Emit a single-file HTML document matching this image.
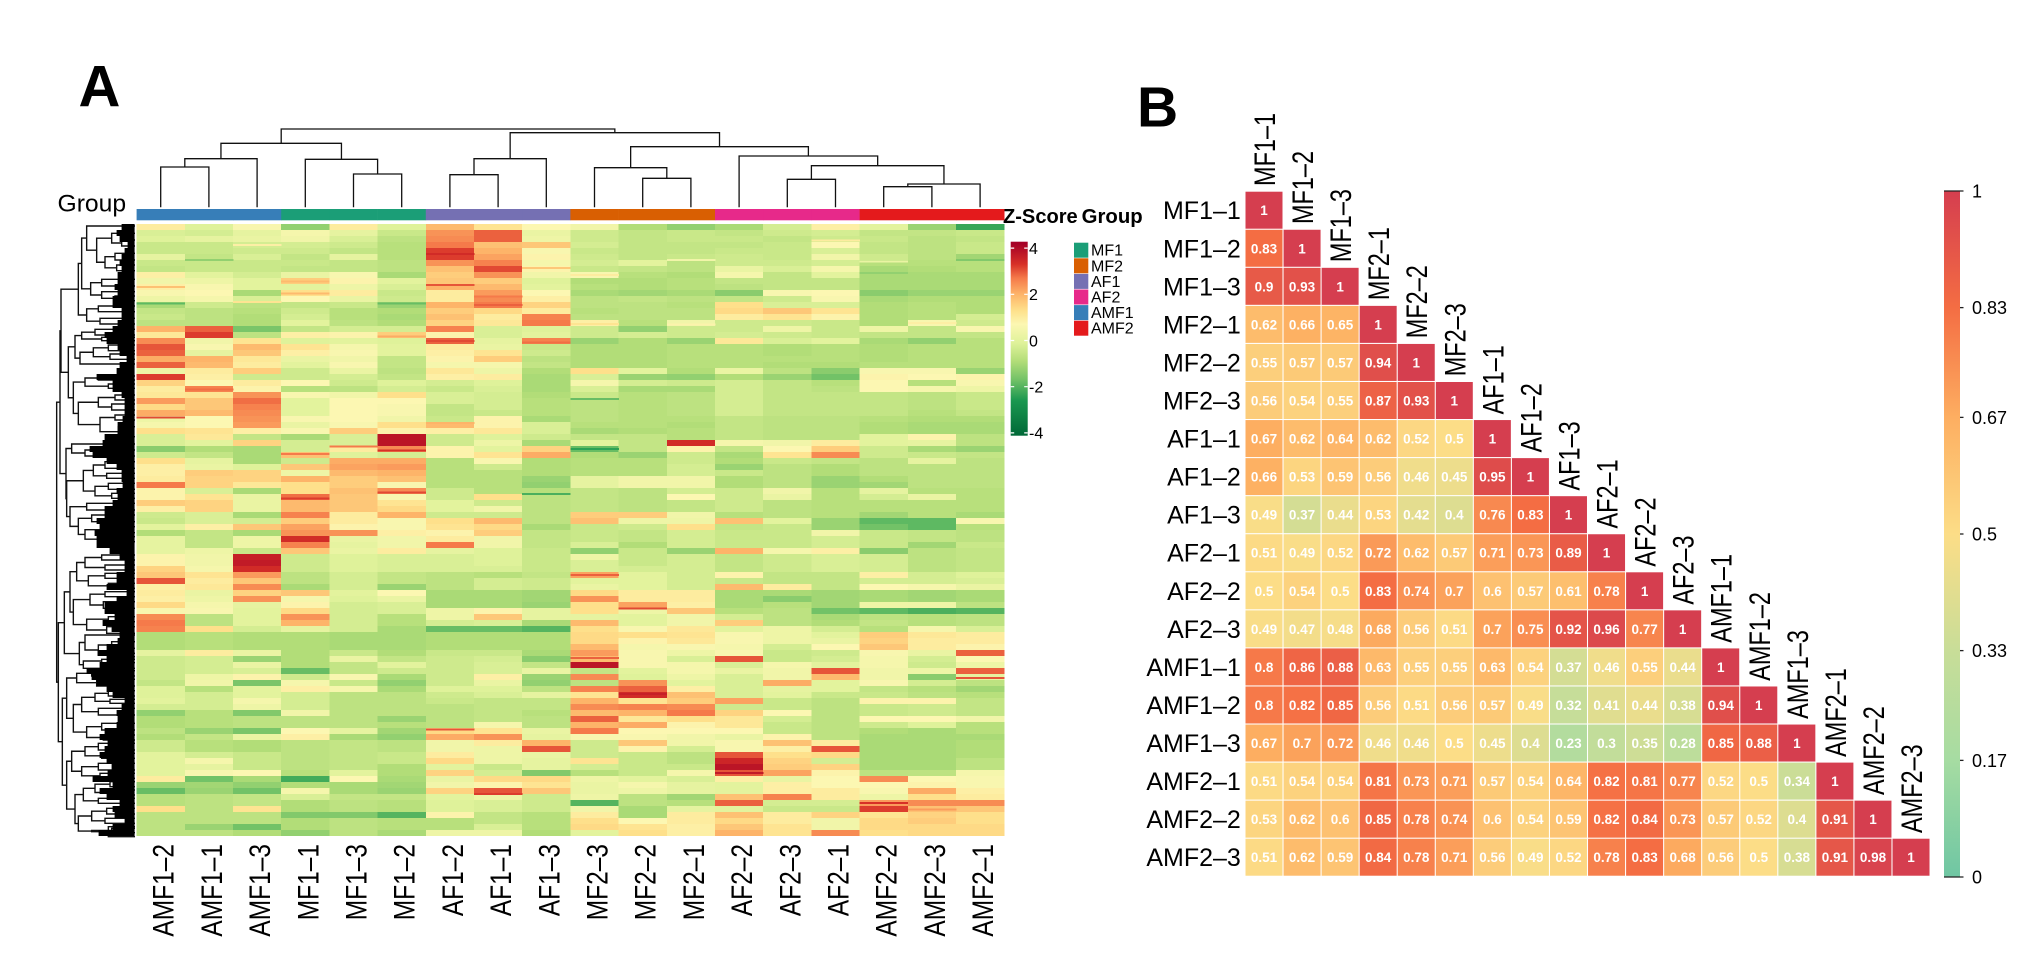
<!DOCTYPE html>
<html lang="en">
<head>
<meta charset="utf-8">
<title>Gene expression heatmap and sample correlation matrix</title>
<style>
html,body{margin:0;padding:0;background:#fff;width:2020px;height:976px;overflow:hidden}
svg{position:absolute;left:0;top:0;display:block}
text{font-family:"Liberation Sans",Arial,sans-serif;fill:#000}
</style>
</head>
<body>
<svg id="fig" xmlns="http://www.w3.org/2000/svg" width="2020" height="976" viewBox="0 0 2020 976">
  <rect x="0" y="0" width="2020" height="976" fill="#fff"/>
  <text x="78.5" y="106.5" font-size="58" font-weight="700">A</text>
  <text x="1137" y="126.5" font-size="57" font-weight="700">B</text>
  <text x="57.5" y="211.5" font-size="24" textLength="68.6" lengthAdjust="spacingAndGlyphs">Group</text>
  <text x="1003" y="223" font-size="20" font-weight="700" textLength="74.7" lengthAdjust="spacingAndGlyphs">Z-Score</text>
  <text x="1081.7" y="223" font-size="20" font-weight="700" textLength="61" lengthAdjust="spacingAndGlyphs">Group</text>
  <g id="col-dendro"></g>
  <g id="row-dendro"></g>
  <g id="annot"></g>
  <g id="heat"></g>
  <g id="heat-labels"></g>
  <g id="z-bar"></g>
  <g id="group-legend"></g>
  <g id="corr"></g>
  <g id="corr-row-labels"></g>
  <g id="corr-col-labels"></g>
  <g id="corr-bar"></g>
</svg>
<script>
/* ---------- Panel A data ---------- */
const heatColumns = ["AMF1–2","AMF1–1","AMF1–3","MF1–1","MF1–3","MF1–2","AF1–2","AF1–1","AF1–3","MF2–3","MF2–2","MF2–1","AF2–2","AF2–3","AF2–1","AMF2–2","AMF2–3","AMF2–1"];
const heatColumnGroups = ["AMF1","AMF1","AMF1","MF1","MF1","MF1","AF1","AF1","AF1","MF2","MF2","MF2","AF2","AF2","AF2","AMF2","AMF2","AMF2"];
const groupNames = ["MF1","MF2","AF1","AF2","AMF1","AMF2"];
const groupColors = ["#1b9e77","#d95f02","#7570b3","#e7298a","#377eb8","#e41a1c"];
const zTicks = [4,2,0,-2,-4];
const zStops = [-4.2,-2.6,-1.7,-0.9,-0.1,0.7,1.3,2,2.7,3.3,4.2];
const zStopColors = ["#006837","#1a9850","#72c267","#b2dd78","#dff29a","#fcf7b2","#fee08b","#fdb469","#f57a4a","#d73027","#a50026"];
const heatRows = [
[1.0,-0.1,0.6,-1.3,1.0,-0.1,1.9,1.2,0.7,0.4,-0.9,-1.3,-1.0,-0.3,0.9,0,-1.2,-2.3],
[-0.2,-0.3,0.1,0.5,0.1,-0.5,2.4,2.9,0.2,-0.4,-0.6,-0.5,-0.6,-0.4,-0.3,-0.6,-0.6,-0.5],
[-0.1,0.1,0.2,0.4,-0.2,-0.7,2.5,2.9,0.3,-0.4,-0.6,-0.5,-0.5,-0.6,-0.4,-0.5,-0.7,-0.6],
[-0.5,-0.5,-0.3,-0.3,-0.4,-0.8,2.7,1.8,1.7,-0.3,-0.6,-0.6,-0.6,-0.5,0.7,-0.6,-0.7,-0.5],
[-0.5,-0.5,-0.4,-0.4,-0.6,-0.8,3.2,2.0,0.6,-0.5,-0.6,-0.6,-0.5,-0.5,-0.2,-0.6,-0.7,-0.5],
[0.1,-0.6,-0.2,-0.6,0.1,-0.8,3.2,2.2,0.8,-0.4,-0.6,-0.5,-0.4,-0.5,0.4,-0.4,-0.7,-1.1],
[-0.5,-0.5,-0.5,-0.5,-0.6,-0.7,2.4,2.6,0.5,-0.3,0.0,-0.7,-0.4,-0.4,-0.3,-0.8,-0.8,-0.8],
[-0.6,-0.5,-0.5,-0.6,-0.6,-0.7,1.8,3.1,0.8,-0.5,-0.6,-0.7,0.2,-0.2,0.5,-1.0,-0.9,-0.8],
[0.9,0,-0.3,0.2,0.6,-1.0,1.6,2.4,0.4,0.6,-0.8,-0.9,0.5,-0.6,0,-1.0,-1.0,-1.0],
[0.4,0.3,0,1.6,0.8,0,1.7,1.6,-0.1,-0.9,-0.9,-0.8,-0.6,-0.6,-0.6,-1.0,-1.0,-1.0],
[0.9,0.6,0,0,0.3,-0.2,2.0,1.9,0,-0.8,-0.9,-0.8,-0.7,-0.6,-0.6,-1.0,-1.0,-1.0],
[0.6,0.7,-1.0,1.3,1.0,-0.5,1.0,2.3,0.7,-1.0,-1.1,-1.0,-1.4,0.6,0.7,-1.4,-1.2,-1.2],
[0.3,0.5,-0.2,0.7,0.2,-0.4,1.0,2.5,0.9,-0.7,-0.6,-0.7,-0.6,-0.4,0.6,-1.0,-0.9,-0.9],
[-1.0,-0.4,-0.7,-0.6,-0.5,-1.2,2.0,2.7,1.5,-0.7,-0.7,-0.8,1.3,-0.2,-0.2,-0.9,-0.8,-0.9],
[-0.6,-0.7,-0.8,-0.4,-0.8,-0.9,1.6,1.4,1.0,-0.8,-0.7,-0.7,1.4,1.7,1.2,-0.9,-0.8,-0.9],
[-0.5,-0.7,-0.9,-0.3,-0.8,-1.0,1.8,1.0,2.6,-0.7,-0.7,-0.7,1.0,1.2,0.8,-0.9,-0.8,-0.3],
[-0.7,-0.7,-0.9,0,-0.7,-0.9,1.5,1.1,2.7,0.9,-0.8,0.4,-0.4,-0.4,-0.5,-0.9,0.6,-0.4],
[2.0,2.9,-1.6,-0.6,-0.3,-0.3,2.6,-0.2,-0.1,-0.4,-1.3,-0.4,-0.4,0.3,-0.5,0.3,-0.6,0.6],
[1.1,3.2,-0.7,0.9,0.8,1.6,0.8,-0.2,0.0,-0.4,-0.3,-0.4,-0.3,-0.4,-0.5,-0.6,-0.6,-0.6],
[2.5,0.4,1.2,-0.1,0,-0.1,2.9,0.1,2.6,-1.2,-0.9,-1.2,1.1,-0.2,0,-1.0,-1.3,-0.8],
[3.0,0.6,1.9,1.2,0.5,0,1.0,0.2,-0.5,-0.9,-0.9,-0.8,-0.8,-0.9,-0.8,-0.9,-0.8,-0.8],
[2.9,0.1,1.7,0.9,0.6,0,0.9,1.2,-0.4,-0.9,-0.9,-0.8,-0.8,-0.9,-0.8,-0.9,-0.8,-0.8],
[2.1,2.0,1.1,0.2,0.4,-0.6,0.8,1.6,-0.7,-0.9,-0.9,-0.8,-0.8,-0.8,-0.8,-0.9,-0.8,-0.8],
[2.9,1.9,1.0,0,0.6,-0.6,0.5,0.5,-0.6,-0.9,-0.9,-0.8,-0.8,-0.9,-0.9,-0.8,-0.8,-0.8],
[0.3,1.0,1.6,-0.4,0.2,-0.7,1.1,0.3,-0.9,1.3,0.0,-0.9,0.2,-0.7,-1.4,0.6,0.6,-1.2],
[3.2,0.9,-0.4,-0.4,-0.3,-0.6,0.9,1,-1,-0.2,-1.2,-1.3,-0.9,-1.2,-1.7,0.8,0.7,0.8],
[1.5,0.7,1.0,0.7,-0.4,-0.1,-0.3,-0.1,-1.0,0.5,-0.3,-0.4,-0.3,-0.6,-0.8,0.7,-0.8,0.6],
[1.0,2.6,0.8,-0.8,-0.7,-0.3,-0.5,-0.2,-1.0,-0.2,-1.0,-1.0,-0.3,-0.6,-0.7,0.7,0.5,0.3],
[1.1,1.2,2.4,0.6,0.4,1.3,-0.2,-0.3,-0.9,-0.5,-0.8,-0.7,-0.3,-0.6,-0.6,-0.6,-0.7,-0.5],
[2.3,1.7,2.8,0,0.7,0.7,-0.2,-0.3,-0.8,-0.7,-0.8,-0.7,-0.3,-0.6,-0.6,-0.6,-0.7,-0.5],
[1.4,1.7,2.6,0,0.7,0.6,-0.6,-0.3,-0.8,-0.7,-0.8,-0.7,-0.3,-0.6,-0.6,-0.6,-0.7,-0.5],
[2.1,1.9,2.5,0,0.7,0.6,-0.6,-0.5,-0.8,-0.7,-0.8,-0.7,-0.3,-0.6,-0.6,-0.6,-0.8,-0.6],
[0.3,0.7,2.4,0.6,0.7,0.4,-0.5,0.8,-1.0,-0.7,-0.8,-0.8,-0.6,-0.7,-0.7,-0.8,-0.9,-0.9],
[0.5,0.7,2.3,0.2,0.6,1.3,1.9,0.8,-0.2,-0.8,-0.8,-0.9,-0.6,-0.7,-0.7,-0.9,-1.0,-1.0],
[1.3,1.2,0.9,0.6,1.6,0.8,0.9,1.1,-0.2,-1.0,-0.9,-0.8,-0.6,-0.7,-0.7,-0.9,-1.0,-1.0],
[-0.2,1.1,-0.6,-1.0,-0.2,3.8,-0.4,-0.1,-0.4,-0.6,-0.6,-0.8,-0.6,-0.7,-0.7,0,0.8,-0.7],
[-0.2,0,1.5,-0.3,-0.2,3.8,-0.4,0.3,-1.0,0,-0.6,3.4,0.5,0.4,1.0,0,0.1,-0.7],
[-1.4,-0.9,-1.0,-0.3,1.0,2.5,0.8,0,1.5,-1.8,-0.6,0.8,-0.6,0.7,1.6,-0.4,-1.0,-1.2],
[-0.4,-0.6,-1.0,1.8,-0.1,-0.3,0.8,1.2,2.1,-0.9,-1.2,-0.4,-1.0,1.2,2.5,-0.4,-0.5,-0.6],
[1.3,0.1,-1.0,-0.4,2.1,2.1,-0.8,0.6,-0.9,-0.8,-0.8,-0.4,-0.9,-0.5,-0.6,-0.7,0.1,-0.7],
[0.9,0.2,-0.1,1.7,2.2,2.3,-0.8,-0.4,-0.9,-0.8,-0.8,-0.3,-1.2,-0.7,-0.9,-0.7,-0.7,-0.7],
[0.9,1.6,1.5,0.3,1.9,2.0,-0.8,-0.8,-0.9,-0.8,-0.8,-0.3,-0.5,-0.7,-0.9,-0.7,-0.7,-0.7],
[1.0,1.5,1.5,2.0,1.6,1.8,-0.8,-0.8,-1.2,0.1,0.4,0.4,-0.9,-0.7,-1.2,-0.9,-0.7,-0.7],
[2.7,1.5,1.1,1.3,1.6,0.6,-0.8,-0.8,-1.3,0.1,0.4,0.4,-0.9,-0.7,-1.2,-1.1,-0.7,-0.7],
[0.8,-0.2,-1.0,1.3,1.8,2.5,-0.4,-0.8,-0.8,-0.6,-0.7,-0.3,-0.4,0.4,-0.8,0.1,-0.8,-0.8],
[0.8,1.2,0.2,2.8,1.7,0.6,-0.4,1.3,-0.7,-0.6,-0.7,0.7,-0.4,0.2,-0.8,-0.3,0.2,-0.8],
[1.6,1.5,0.2,1.9,1.7,1.2,0,-0.4,-0.7,-0.6,-0.7,-0.6,-0.4,-0.7,-0.8,-0.8,-0.8,-0.8],
[0.9,1.5,0.2,1.9,1.7,1.4,0,0.4,-0.7,-0.6,-0.7,-0.6,-0.4,-0.7,-0.8,-0.8,-0.8,-0.8],
[-0.4,-0.2,-1.0,2.6,1.0,2.0,-0.4,-0.4,-0.7,1.6,1.6,0.4,-0.8,-0.7,-0.8,-1.1,-0.8,-1.0],
[-0.5,-0.2,-0.3,1.6,1.0,0.6,1.3,1.9,-0.7,1.8,0.3,0.3,1.8,0,-1.2,-1.9,-1.9,0.6],
[0,0.9,1.7,2.2,0.8,0.6,1.2,1.4,-1.0,-0.5,-0.4,1.3,-0.6,-0.5,-1.2,-1.7,-1.9,-0.8],
[-0.9,-0.6,-1.0,2.4,2.4,0.9,0.8,1.6,-0.6,-0.5,-0.6,-0.3,-0.5,-0.5,0.4,-0.5,-0.6,-0.7],
[0.1,-0.6,0.3,3.4,0.2,0.4,1,0.4,-0.6,-0.5,-0.6,-0.3,-0.5,-0.5,-0.3,-0.5,-0.6,-0.7],
[0.1,-0.6,0.3,2.6,0.1,0.4,2.7,0.4,-0.6,-0.2,-0.9,-0.3,-0.5,-0.5,-0.3,-0.5,-1.1,-0.5],
[0.1,0.3,-0.5,1.7,0.2,1.0,0.1,-0.1,-0.5,-1.3,-0.5,-1.2,2.0,0.5,0.9,-1.4,-0.7,-0.6],
[0.8,0.4,3.6,-0.4,-0.1,-0.2,-0.2,-0.1,-0.5,0.3,-0.5,-0.3,-0.6,-0.4,-0.2,-0.3,-0.7,-0.6],
[0.8,0.4,3.7,-0.4,-0.1,-0.2,-0.2,-0.1,-0.5,-0.2,-0.5,-0.3,-0.6,-0.4,-0.2,-0.3,-0.7,-0.6],
[1.5,0.5,3.4,-0.4,-0.1,-0.2,-0.2,-0.2,-0.5,-0.2,-0.3,-0.3,-0.6,-0.4,-0.2,-0.3,-0.7,-0.6],
[1.7,1.2,2.3,-0.7,-0.3,-0.6,-0.7,-0.8,-0.6,2.2,0,-0.3,0.8,-0.6,-0.6,0.9,-0.3,-0.1],
[3.0,1.0,1.7,-0.7,-0.3,-0.6,-0.7,-0.3,-0.4,0,0,-0.3,-0.5,-0.6,-0.6,-0.3,-0.3,-0.2],
[0.9,1.1,2.5,-1.0,-0.3,-1.2,-0.7,-0.3,-0.4,0.2,0,-0.3,1.9,1,-0.6,0.7,0.5,0.2],
[1.0,0.2,1.5,1.7,0,0.7,-1.0,-1.0,-1.1,1.4,1.0,1.0,-1.0,-1.0,-1.1,-1,-1.1,-1],
[0.9,0.3,2.4,0.5,-0.1,0.2,-1.0,-1.0,-1.1,2.4,1.0,1.0,-1.0,-1.4,-1.1,-1,-1.1,-1],
[1.4,0.5,0.1,0.8,-0.3,-0.2,-1.0,-1.0,-1.2,1.3,2.2,0.9,-1.0,-0.8,-1.1,0.3,0.3,-0.7],
[0.6,0.6,0,1.4,-0.3,-0.2,0.3,0.8,0.1,1.3,0.3,1.7,-0.8,-0.7,-1.7,-1.9,-2.1,-2.0],
[2.5,-0.7,0,2.4,-0.3,-0.8,0.3,1.7,0.1,0.1,0,0.4,-0.3,-0.7,-1.0,-0.7,-0.8,-0.7],
[2.7,-0.7,0,2.0,-0.3,-0.8,-0.3,-0.2,-1.0,1.9,0,0.4,1.6,-0.7,-0.9,-0.6,-0.8,-0.7],
[2.6,1.3,-0.3,0.1,-0.3,-1.0,-1.8,-1.8,-2.0,1.3,0.6,1.1,0,0.3,-0.3,-0.8,0.5,-0.2],
[-0.9,-0.8,-0.9,-0.9,-1.0,-1.0,-0.9,-0.9,-0.9,1.4,1.3,1.2,0.6,0.3,0,1.6,1.1,1.0],
[-0.9,-0.8,-0.9,-0.9,-1,-1,-0.9,-0.9,-0.9,1.4,0.8,1.1,0.6,0.3,0.2,1.5,1.0,1.0],
[-0.9,-0.8,-0.9,-0.9,-1,-1,-0.9,-0.9,-0.9,1.9,0.5,0.6,0.5,-0.3,0.7,1.7,1.0,0.8],
[0.1,1.0,0.2,-0.9,-0.5,-0.9,-0.5,-0.5,-1.0,2.3,0.6,0.3,0.6,-0.5,-0.4,0.6,0.2,2.9],
[-0.4,-0.3,-1.2,-0.9,0.2,-0.6,-0.4,-0.3,-1.4,1.9,0.6,-0.2,3.0,-0.5,-0.3,0.5,-0.3,0.7],
[-0.4,-0.3,0.2,-0.9,-0.6,0,-0.4,-0.2,-0.6,3.8,0.6,0.5,-0.2,0.5,0,0.5,-0.4,0.3],
[-0.4,-0.3,-0.2,-1.8,-0.6,-0.4,-0.4,-0.2,0.2,-0.6,0,0.5,0.2,0.4,3.0,0.4,0.3,2.9],
[-0.4,0.3,0.8,-0.4,0.6,-1.0,-0.4,0.9,-1.2,2.5,-0.1,0.3,-0.2,0.4,1.9,0.4,-1.4,0.1],
[-0.6,0.4,-1.6,0.5,-0.5,-1.3,-0.4,0.2,-1.3,-0.7,2.4,0,-0.2,2.1,0,0.6,-0.3,-0.7],
[-0.1,-0.8,0,0.9,0.5,-1.0,-0.1,-0.1,-0.7,2.6,2.9,0.9,-0.2,0.1,0,-0.6,-0.8,-1.1],
[-0.1,-0.3,0,-0.3,-0.7,-0.7,-0.4,-0.2,0.1,1.2,3.4,1.8,-0.2,0,-0.5,-0.5,-0.7,-0.8],
[0,-0.3,0.5,-0.3,-0.7,-0.7,-0.5,-0.6,-0.6,2.0,1.2,1.6,2.2,-0.5,-0.7,0.8,0.8,-0.6],
[-0.3,-0.3,0.3,-0.3,-0.7,-0.7,-0.7,-0.6,-0.6,2.5,2.6,2.5,-0.4,-0.5,-0.7,-0.5,-0.4,-0.6],
[-1.3,-0.8,-1.5,0.4,-0.7,-0.7,-0.7,-0.6,-0.8,1.9,2.0,2.7,1.5,0.7,-0.7,-0.5,-0.4,-0.6],
[-0.9,-0.8,-0.7,-0.7,-0.7,-1.2,-0.7,-0.6,-0.7,2.9,1.1,1.3,1.1,-0.3,-0.7,0.7,0.7,0.4],
[-0.9,-0.8,-0.7,-0.7,-0.7,-0.8,-0.7,0.5,-0.7,2.0,2.1,0.8,1.1,-0.5,-0.7,-0.4,-0.1,-0.8],
[-0.7,-1.2,-1.6,0.7,0.1,-1.1,1.4,1.2,0.2,2.7,0.7,0.7,0.7,-0.5,-0.7,-0.9,-1.0,-0.8],
[-0.9,-0.6,0.2,0.9,-1.0,-1.3,2.1,2.4,0.1,0.6,0.6,0.4,0.2,0.8,-0.7,-1.0,-1.0,-1.0],
[-0.4,-0.8,-0.9,-0.7,-0.6,-0.7,0.4,1.0,2.0,-0.4,1.7,0.4,0.6,1.8,1.0,-1.0,-1.0,-0.9],
[-0.4,-0.8,-0.9,-0.7,-0.6,-0.7,0.4,0.3,3.0,-0.4,0.8,-0.3,0.6,0.9,3.0,-1.0,-1.0,-0.9],
[0,-0.3,-0.5,-0.7,-0.6,-0.5,1.0,0.3,0.2,-0.4,-0.5,-0.7,3.0,1.3,1.4,-1.0,-1.0,-0.9],
[0,0.5,-0.5,-0.7,-0.6,-0.5,1.4,0.3,0.1,1.2,-0.5,-0.7,3.5,1.5,-0.3,-1.0,-1.0,-0.7],
[0,0.1,-0.5,-0.7,-0.6,-0.9,0,-0.5,0.1,-0.3,-0.5,-0.5,3.8,1.6,1.5,-1.0,-1.0,-0.7],
[0,0.6,0.7,-0.8,0,-0.9,1.5,-0.3,-1.5,-0.8,-0.5,0.5,3.0,2.2,0.8,-0.7,-0.7,0.5],
[1.0,-1.7,-1.0,-2.2,0.7,-1.0,0.2,1.4,1.4,0.3,0,-0.2,0.9,0.2,0.7,2.5,0.7,0.6],
[-1.2,-1.1,-1.3,-0.9,-1,-1.1,0.4,0.8,1.2,0.2,0.5,0.1,0,0.9,0.7,0.7,0.8,0.6],
[-1.8,-1.2,-1.7,0.5,-1,-1.2,1.5,3,1.7,0.2,0.3,0.1,0,0.9,1,0.6,2.1,0.9],
[-0.8,-0.7,-0.6,-0.2,-0.6,-0.6,0,0.3,-0.4,0.3,-0.7,-1.1,1.8,2.6,1,0.3,1.3,1],
[-0.8,-0.7,-0.6,-0.9,-0.7,-0.8,-0.1,-0.2,-0.4,-2.0,-0.7,-0.8,2.9,-0.3,-0.3,2.3,2.5,2.5],
[1.3,-0.7,1.2,-0.9,-0.7,-0.8,-0.1,-0.2,-0.4,0.4,-1.0,0.1,0,-0.5,-0.5,3.2,1.8,1.7],
[-0.7,-0.7,-0.7,-1.5,-1.5,-2.0,0.8,-0.6,-0.8,1.0,-1,1,1.8,1,1.5,1.2,1.5,1.3],
[-0.7,-0.7,-0.7,-0.9,-0.7,-0.8,-0.8,-0.6,-0.8,1.3,0.7,1.0,1.4,1.0,0.4,1.4,1.6,1.3],
[-0.7,-1.2,-1.7,-0.9,-0.7,-0.8,-0.8,-0.2,-0.8,1.4,1.2,0.9,1.7,1.2,0.4,1.4,1.4,1.4],
[-0.7,-0.7,-0.9,-1.3,-0.7,-1,0.3,0.3,-0.9,0,1.3,0.9,2,1.2,2.5,1.3,1.4,1.4]
];
/* thin single-gene stripes: fractional row, column, z value */
const stripeRowPos = [10.3,13.05,5.8,12.8,11.4,9.4,13.05,10,13.3,11.9,8.3,16.5,16.6,16.3,7.2,18.6,19.3,19.6,5.8,5.8,6.1,8,32.05,27.4,38.2,36.9,37.6,44.55,33,45.6,44.8,29,37.3,58.3,63.9,72.2,75.5,84.1,78.2,91.3,87.6,94.8,96.3,97.4,2.6,4.8,3.3];
const stripeCols = [0,0,1,2,3,3,5,6,7,7,9,9,11,16,8,5,6,8,17,11,15,15,0,1,3,4,5,5,6,3,8,9,9,9,10,9,17,6,10,12,8,7,15,16,14,6,2];
const stripeValues = [1.8,-1.9,-1.3,1.2,1.9,1.9,-1.8,3,2.9,2.7,1.0,1.2,0.8,0.9,1.7,2.1,3.1,2.8,-1.5,0.4,0.2,-1.3,3.1,2.8,2.7,2.7,3.3,3.1,2,3.2,-2.1,-1.8,-2.4,2.9,3.1,2.9,3,3,3.6,3.7,3,3.2,3.3,2.3,1.0,3.4,0.9];
/* column dendrogram: [merge height, left, right]; leaves are column indices */
const colTree = [78.3,
  [64,[48.6,[40.3,0,1],2],[48,3,[33.3,4,5]]],
  [74.6,[48.6,[32.6,6,7],8],
    [60.6,[39.6,9,[29,10,11]],
      [51.3,12,[41.6,[28,13,14],[23.3,[20.6,15,16],17]]]]]];
/* row dendrogram: [merge distance, upper, lower]; leaves are row-order positions */
const rowTree = [235,
  [225,
    [222,
      [170,
        [160,
          [145,18,[115,[70,40,[40,60,78]],[90,[60,100,120],[55,135,152]]]],
          [133,[100,178,198],[100,215,[60,228,242]]]],
        [145,[110,258,275],[105,295,312]]],
      [200,
        [180,[160,[120,328,345],[100,352,362]],[165,[125,[80,375,392],[75,402,418]],432]],
        [185,[150,[110,468,480],[80,492,505]],[170,[110,[60,525,540],[70,552,570]],[105,[60,585,600],[50,620,650]]]]]],
    [207,
      [190,672,[150,690,708]],
      [205,
        [155,[125,[90,725,745],[85,760,775]],[120,[80,790,808],[70,820,835]]],
        [195,[145,850,870],[170,[130,885,905],[150,[90,920,938],[110,950,965]]]]]]],
  [230,
    [212,
      [195,
        [175,[150,[100,1005,1020],[90,1035,1050]],[140,[90,1060,1075],[80,1090,1105]]],
        [185,[135,[90,1115,1130],[95,1145,1165]],[145,[80,1190,1205],[85,1220,1240]]]],
      [167,[150,1245,[110,[70,1265,1285],[60,1300,1310]]],[155,[100,1318,1328],1345]]],
    [218,
      [205,
        [175,[130,1352,1368],[115,1378,1398]],
        [185,[160,[120,[80,1412,1428],[75,1438,1450]],[110,1465,1485]],[145,[100,1510,1530],[95,1545,1560]]]],
      [205,
        [190,[150,[110,1570,1590],[100,1600,1615]],[160,[110,1630,1650],[105,1660,1675]]],
        [180,[155,[120,[75,1685,1700],[80,1710,1725]],[110,1735,1750]],[170,[130,[85,1765,1782],[90,1795,1810]],[130,[70,1825,1838],[80,1820,1850]]]]]]]];
/* depth of the terminal-branch mass for every heatmap row */
const rowLeafDepth = [13,18,15,7,10,13,15,13,17,17,20,17,22,22,13,13,17,22,30,28,17,15,8,15,18,38,22,22,13,10,10,10,12,17,17,30,32,45,42,28,18,13,13,12,18,17,22,30,30,38,35,40,38,38,25,15,10,10,18,18,28,8,18,30,30,20,32,23,15,17,28,37,28,35,48,43,38,28,22,10,13,18,17,18,30,35,27,30,35,28,23,27,42,22,35,28,15,22,20,10,22,36];

/* ---------- Panel B data ---------- */
const corrLabels = ["MF1–1","MF1–2","MF1–3","MF2–1","MF2–2","MF2–3","AF1–1","AF1–2","AF1–3","AF2–1","AF2–2","AF2–3","AMF1–1","AMF1–2","AMF1–3","AMF2–1","AMF2–2","AMF2–3"];
const corrValues = [
[1],
[.83,1],
[.9,.93,1],
[.62,.66,.65,1],
[.55,.57,.57,.94,1],
[.56,.54,.55,.87,.93,1],
[.67,.62,.64,.62,.52,.5,1],
[.66,.53,.59,.56,.46,.45,.95,1],
[.49,.37,.44,.53,.42,.4,.76,.83,1],
[.51,.49,.52,.72,.62,.57,.71,.73,.89,1],
[.5,.54,.5,.83,.74,.7,.6,.57,.61,.78,1],
[.49,.47,.48,.68,.56,.51,.7,.75,.92,.96,.77,1],
[.8,.86,.88,.63,.55,.55,.63,.54,.37,.46,.55,.44,1],
[.8,.82,.85,.56,.51,.56,.57,.49,.32,.41,.44,.38,.94,1],
[.67,.7,.72,.46,.46,.5,.45,.4,.23,.3,.35,.28,.85,.88,1],
[.51,.54,.54,.81,.73,.71,.57,.54,.64,.82,.81,.77,.52,.5,.34,1],
[.53,.62,.6,.85,.78,.74,.6,.54,.59,.82,.84,.73,.57,.52,.4,.91,1],
[.51,.62,.59,.84,.78,.71,.56,.49,.52,.78,.83,.68,.56,.5,.38,.91,.98,1]
];
const corrTicks = [0,0.17,0.33,0.5,0.67,0.83,1];
const corrStops = [0,0.17,0.33,0.5,0.67,0.83,1];
const corrStopColors = ["#6fc6a3","#a6dca2","#c8dd98","#fcdd87","#fdae61","#f46d43","#d53e4f"];

/* ---------- helpers ---------- */
const NS = "http://www.w3.org/2000/svg";
function mk(tag, parent, attrs){
  const el = document.createElementNS(NS, tag);
  for (const k in attrs) el.setAttribute(k, attrs[k]);
  parent.appendChild(el);
  return el;
}
function hexRgb(h){return [parseInt(h.slice(1,3),16),parseInt(h.slice(3,5),16),parseInt(h.slice(5,7),16)];}
function ramp(stops, colors, v){
  if (v <= stops[0]) return colors[0];
  for (let i = 1; i < stops.length; i++){
    if (v <= stops[i]){
      const t = (v - stops[i-1]) / (stops[i] - stops[i-1]);
      const a = hexRgb(colors[i-1]), b = hexRgb(colors[i]);
      return "rgb(" + a.map((c,k)=>Math.round(c + (b[k]-c)*t)).join(",") + ")";
    }
  }
  return colors[colors.length-1];
}
/* axis functions */
const heatX = j => 136.6 + 48.2 * j;
const heatY = r => 224 + 6 * r;
const colCenter = j => heatX(j) + 24.1;
const colDendY = h => 207.3 - h;
const rowDendX = h => 135 - h / 3;
const rowDendY = p => 220 + p / 3;
const zY = z => 340.5 - 23.1 * z;
const corrX = j => 1245.5 + 38.06 * j;
const corrY = i => 191.7 + 38.06 * i;
const corrBarY = v => 877 - 686 * v;

/* ---------- annotation bar ---------- */
const annot = document.getElementById("annot");
heatColumns.forEach((c,j)=>{
  const r = mk("rect", annot, {x:heatX(j), y:209, width:48.5, height:11.3, fill:groupColors[groupNames.indexOf(heatColumnGroups[j])]});
  
  
});

/* ---------- heatmap ---------- */
const heat = document.getElementById("heat");
heatRows.forEach((row,r)=>{
  row.forEach((v,j)=>{
    const c = mk("rect", heat, {x:heatX(j), y:heatY(r), width:48.5, height:6.2, fill:ramp(zStops,zStopColors,v), "shape-rendering":"crispEdges"});
    
    
  });
});
stripeRowPos.forEach((r,i)=>{
  const c = mk("rect", heat, {x:heatX(stripeCols[i]), y:heatY(r), width:48.5, height:2, fill:ramp(zStops,zStopColors,stripeValues[i]), "shape-rendering":"crispEdges"});
  
  
});

/* ---------- heatmap labels ---------- */
const hl = document.getElementById("heat-labels");
heatColumns.forEach((c,j)=>{
  const t = mk("text", hl, {"text-anchor":"end","font-size":25,transform:"translate("+(colCenter(j)+13)+",844) rotate(-90) scale(0.98,1.17)"});
  
  
  t.textContent = c;
});

/* ---------- column dendrogram ---------- */
let colPath = "";
function walkCol(n){
  if (typeof n === "number") return {x:colCenter(n), y:colDendY(0)};
  const a = walkCol(n[1]), b = walkCol(n[2]), y = colDendY(n[0]);
  colPath += "M"+a.x+" "+a.y+"V"+y+"H"+b.x+"V"+b.y;
  return {x:(a.x+b.x)/2, y:y};
}
walkCol(colTree);
const colLine = mk("path", document.getElementById("col-dendro"), {d:colPath, fill:"none", stroke:"#111", "stroke-width":1.3});



/* ---------- row dendrogram ---------- */
let rowPath = "";
function walkRow(n){
  if (typeof n === "number") return {x:rowDendX(0), y:rowDendY(n)};
  const a = walkRow(n[1]), b = walkRow(n[2]), x = rowDendX(n[0]);
  rowPath += "M"+a.x+" "+a.y+"H"+x+"V"+b.y+"H"+b.x;
  return {x:x, y:(a.y+b.y)/2};
}
walkRow(rowTree);
const rd = document.getElementById("row-dendro");
const rowLine = mk("path", rd, {d:rowPath, fill:"none", stroke:"#111", "stroke-width":1.4});


let blob = "M134.6 "+heatY(0);
rowLeafDepth.forEach((d,r)=>{ blob += "L"+(134.6-d)+" "+heatY(r)+"L"+(134.6-d)+" "+heatY(r+1); });
blob += "L134.6 "+heatY(rowLeafDepth.length)+"Z";
const blobEl = mk("path", rd, {d:blob, fill:"#000"});



/* ---------- z colorbar ---------- */
const defs = mk("defs", document.getElementById("fig"), {});
const zGrad = mk("linearGradient", defs, {id:"zg", x1:0, y1:0, x2:0, y2:1});
const zTop = 241.7, zBot = 435.7;
for (let i = zStops.length-1; i >= 0; i--){
  mk("stop", zGrad, {offset:(zY(zStops[i])-zTop)/(zBot-zTop), "stop-color":zStopColors[i]});
}
const zb = document.getElementById("z-bar");
const zRect = mk("rect", zb, {x:1010.7, y:zTop, width:17, height:zBot-zTop, fill:"url(#zg)"});


zTicks.forEach(z=>{
  const y = zY(z);
  const t1 = mk("path", zb, {d:"M1010.7 "+y+"h3.5M1024.2 "+y+"h3.5", stroke:"#fff", "stroke-width":1.2});
  
  
  const l = mk("text", zb, {x:1029, y:y+5.8, "font-size":16});
  
  
  l.textContent = String(z);
});

/* ---------- group legend ---------- */
const gl = document.getElementById("group-legend");
groupNames.forEach((g,i)=>{
  const y = 242.7 + 15.6 * i;
  const s = mk("rect", gl, {x:1074, y:y, width:14.3, height:15, fill:groupColors[i]});
  
  
  const t = mk("text", gl, {x:1091, y:y+13, "font-size":16});
  
  
  t.textContent = g;
});

/* ---------- correlation matrix ---------- */
const corr = document.getElementById("corr");
corrValues.forEach((row,i)=>{
  row.forEach((v,j)=>{
    const c = mk("rect", corr, {x:corrX(j), y:corrY(i), width:37, height:37, fill:ramp(corrStops,corrStopColors,v)});
    
    
    const t = mk("text", corr, {x:corrX(j)+18.5, y:corrY(i)+23.5, "text-anchor":"middle", "font-size":13.5, "font-weight":700, style:"fill:#fff"});
    
    
    t.textContent = String(v);
  });
});
const crl = document.getElementById("corr-row-labels");
const ccl = document.getElementById("corr-col-labels");
corrLabels.forEach((c,i)=>{
  const t = mk("text", crl, {x:1240.8, y:corrY(i)+27.5, "text-anchor":"end", "font-size":25});
  
  
  t.textContent = c;
  const u = mk("text", ccl, {"font-size":25, transform:"translate("+(corrX(i)+29.5)+","+(corrY(i)-5.7)+") rotate(-90) scale(0.94,1.17)"});
  
  
  u.textContent = c;
});

/* ---------- correlation colorbar ---------- */
const cGrad = mk("linearGradient", defs, {id:"cg", x1:0, y1:1, x2:0, y2:0});
corrStops.forEach((s,i)=>{ mk("stop", cGrad, {offset:s, "stop-color":corrStopColors[i]}); });
const cb = document.getElementById("corr-bar");
const cRect = mk("rect", cb, {x:1944, y:corrBarY(1), width:16, height:686, fill:"url(#cg)"});


corrTicks.forEach(v=>{
  const y = corrBarY(v);
  const edge = (v === 0 || v === 1);
  const tick = mk("path", cb, {d:"M"+(edge?1944:1960)+" "+y+"H1963.5", stroke:"#222", "stroke-width":1.3});
  
  
  const l = mk("text", cb, {x:1972, y:y+6.5, "font-size":18});
  
  
  l.textContent = String(v);
});
</script>
</body>
</html>
